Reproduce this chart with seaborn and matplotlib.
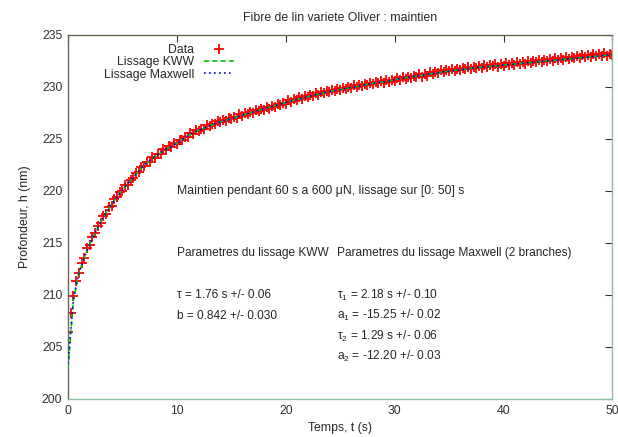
import numpy as np
import pandas as pd
import seaborn as sns
import matplotlib
matplotlib.use('Agg')
import matplotlib.pyplot as plt

data_t = np.arange(0, 50.01, 0.25)
data_h = [206.4, 208.3, 209.9, 211.3, 212.1, 213.1, 213.6, 214.5, 214.8, 215.6,
          216.0, 216.6, 216.9, 217.6, 217.8, 218.5, 218.6, 219.2, 219.4, 219.9,
          220.0, 220.6, 220.6, 221.1, 221.2, 221.7, 221.8, 222.3, 222.4, 222.8,
          222.8, 223.3, 223.2, 223.6, 223.6, 224.0, 223.9, 224.3, 224.2, 224.6,
          224.5, 224.9, 224.9, 225.2, 225.2, 225.6, 225.5, 225.9, 225.8, 226.0,
          226.0, 226.3, 226.2, 226.4, 226.4, 226.7, 226.6, 226.8, 226.7, 227.0,
          226.9, 227.1, 227.0, 227.4, 227.2, 227.5, 227.4, 227.6, 227.5, 227.8,
          227.7, 227.9, 227.8, 228.1, 227.9, 228.2, 228.1, 228.4, 228.3, 228.5,
          228.4, 228.7, 228.6, 228.8, 228.7, 229.0, 228.8, 229.1, 229.0, 229.2,
          229.1, 229.4, 229.2, 229.5, 229.4, 229.6, 229.5, 229.7, 229.6, 229.8,
          229.7, 229.9, 229.8, 230.0, 229.9, 230.2, 230.0, 230.2, 230.1, 230.3,
          230.2, 230.4, 230.3, 230.5, 230.4, 230.6, 230.4, 230.7, 230.5, 230.7,
          230.6, 230.9, 230.7, 231.0, 230.8, 231.0, 230.9, 231.1, 231.0, 231.2,
          231.0, 231.2, 231.1, 231.4, 231.2, 231.4, 231.3, 231.6, 231.4, 231.6,
          231.5, 231.7, 231.5, 231.7, 231.6, 231.8, 231.7, 231.9, 231.7, 231.9,
          231.8, 232.0, 231.8, 232.1, 231.9, 232.1, 232.0, 232.2, 231.9, 232.2,
          232.0, 232.3, 232.1, 232.3, 232.1, 232.4, 232.2, 232.4, 232.2, 232.5,
          232.3, 232.5, 232.4, 232.6, 232.4, 232.6, 232.5, 232.7, 232.5, 232.8,
          232.6, 232.8, 232.6, 232.9, 232.7, 232.9, 232.8, 233.0, 232.8, 233.1,
          232.9, 233.1, 232.9, 233.2, 233.0, 233.2, 233.0, 233.3, 233.0, 233.2,
          233.1]

# fitted curves (nm), one value every 0.5 s
fit_t = np.arange(0, 50.01, 0.5)
fit_kww = [203.0, 209.5, 212.1, 213.6, 214.9, 216.0, 217.0, 217.9, 218.7, 219.4,
           220.1, 220.7, 221.3, 221.9, 222.5, 222.9, 223.3, 223.65, 224.0, 224.3,
           224.6, 224.95, 225.3, 225.6, 225.85, 226.05, 226.25, 226.45, 226.65, 226.8,
           226.95, 227.1, 227.3, 227.45, 227.6, 227.75, 227.9, 228.05, 228.2, 228.35,
           228.5, 228.65, 228.8, 228.9, 229.05, 229.2, 229.3, 229.45, 229.55, 229.65,
           229.75, 229.85, 229.95, 230.05, 230.15, 230.25, 230.35, 230.45, 230.5, 230.6,
           230.7, 230.8, 230.9, 230.95, 231.05, 231.1, 231.2, 231.3, 231.35, 231.45,
           231.5, 231.6, 231.65, 231.7, 231.8, 231.85, 231.9, 231.95, 232.0, 232.05,
           232.1, 232.15, 232.2, 232.25, 232.3, 232.35, 232.4, 232.45, 232.5, 232.55,
           232.6, 232.65, 232.7, 232.75, 232.8, 232.85, 232.9, 232.95, 233.0, 233.05,
           233.1]

fit_maxwell = [203.4, 209.6, 212.1, 213.6, 214.9, 216.0, 217.0, 217.9, 218.7, 219.4,
               220.1, 220.7, 221.3, 221.9, 222.5, 222.9, 223.3, 223.65, 224.0, 224.3,
               224.6, 224.95, 225.3, 225.6, 225.85, 226.05, 226.25, 226.45, 226.65, 226.8,
               226.95, 227.1, 227.3, 227.45, 227.6, 227.75, 227.9, 228.05, 228.2, 228.35,
               228.5, 228.65, 228.8, 228.9, 229.05, 229.2, 229.3, 229.45, 229.55, 229.65,
               229.75, 229.85, 229.95, 230.05, 230.15, 230.25, 230.35, 230.45, 230.5, 230.6,
               230.7, 230.8, 230.9, 230.95, 231.05, 231.1, 231.2, 231.3, 231.35, 231.45,
               231.5, 231.6, 231.65, 231.7, 231.8, 231.85, 231.9, 231.95, 232.0, 232.05,
               232.1, 232.15, 232.2, 232.25, 232.3, 232.35, 232.4, 232.45, 232.5, 232.55,
               232.6, 232.65, 232.7, 232.75, 232.8, 232.85, 232.9, 232.95, 233.0, 233.05,
               233.1]

x_ticks = [0, 10, 20, 30, 40, 50]
y_ticks = [200, 205, 210, 215, 220, 225, 230, 235]

kww_lines = ['Parametres du lissage KWW', 'τ = 1.76 s +/- 0.06', 'b = 0.842 +/- 0.030']
maxwell_lines = ['Parametres du lissage Maxwell (2 branches)',
                 'τ$_1$ = 2.18 s +/- 0.10', 'a$_1$ = -15.25 +/- 0.02',
                 'τ$_2$ = 1.29 s +/- 0.06', 'a$_2$ = -12.20 +/- 0.03']

df_data = pd.DataFrame({'t': data_t, 'h': data_h})
df_fit = pd.DataFrame({'t': fit_t, 'kww': fit_kww, 'maxwell': fit_maxwell})

sns.set_style('white')
plt.rcParams['font.family'] = ['Liberation Sans', 'DejaVu Sans']
plt.rcParams['mathtext.fontset'] = 'custom'
plt.rcParams['mathtext.rm'] = 'Liberation Sans'
plt.rcParams['mathtext.it'] = 'Liberation Sans'
plt.rcParams['font.size'] = 8.6

fig = plt.figure(figsize=(6.18, 4.37), dpi=100)
ax = fig.add_axes([0.110, 0.087, 0.881, 0.833])

sns.scatterplot(data=df_data, x='t', y='h', marker='+', color='#ff0000', s=48,
                linewidth=1.3, ax=ax, label='Data', zorder=2)
sns.lineplot(data=df_fit, x='t', y='kww', color='#00c000', linestyle=(0, (3, 2)),
             linewidth=1.2, ax=ax, label='Lissage KWW', zorder=3)
sns.lineplot(data=df_fit, x='t', y='maxwell', color='#0000ff', linestyle=(0, (1, 2)),
             linewidth=1.2, ax=ax, label='Lissage Maxwell', zorder=4)

ax.set_xlim(0, 50)
ax.set_ylim(200, 235)
ax.set_xticks(x_ticks)
ax.set_yticks(y_ticks)
ax.tick_params(direction='in', length=5, width=0.8, top=True, right=True,
               labelsize=8.8, pad=4, colors='#333333')
for side in ['left', 'top']:
    ax.spines[side].set_color('#666655')
for side in ['bottom', 'right']:
    ax.spines[side].set_color('#88c0a0')
for sp in ax.spines.values():
    sp.set_linewidth(1.0)

ax.set_title('Fibre de lin variete Oliver : maintien', fontsize=8.8, pad=10)
ax.set_xlabel('Temps, t (s)', fontsize=8.8)
ax.set_ylabel('Profondeur, h (nm)', fontsize=8.8, labelpad=8)

ax.text(10, 220, 'Maintien pendant 60 s a 600 μN, lissage sur [0: 50] s', va='center',
        fontsize=8.8)
for y, txt in zip([214, 210, 208], kww_lines):
    ax.text(10, y, txt, va='center')
for y, txt in zip([214, 210, 208, 206, 204.1], maxwell_lines):
    ax.text(24.7, y, txt, va='center')

leg = ax.legend(loc='upper left', bbox_to_anchor=(0.05, 1.0), frameon=False,
                markerfirst=False, handlelength=2.5, handletextpad=0.8,
                labelspacing=0.05, fontsize=8.8, borderaxespad=0.3)
for col in leg._legend_handle_box.get_children():
    col.align = 'right'

fig.savefig('out.png', dpi=100)
